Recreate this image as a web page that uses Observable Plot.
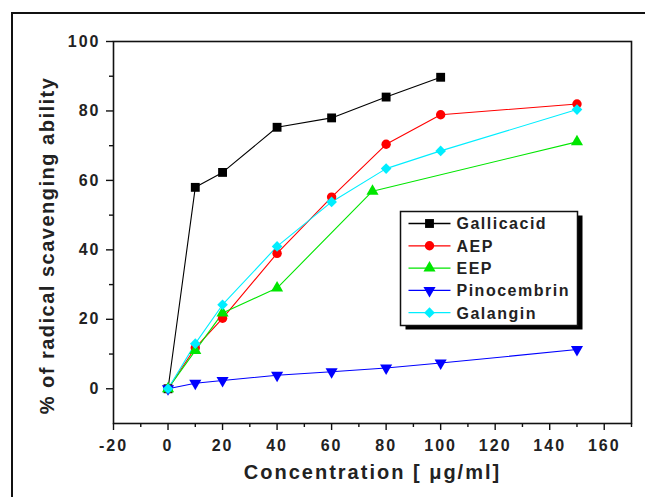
<!DOCTYPE html>
<html>
<head>
<meta charset="utf-8">
<script src="https://cdn.jsdelivr.net/npm/d3@7"></script>
<script src="https://cdn.jsdelivr.net/npm/@observablehq/plot@0.6"></script>
<style>
  html, body { margin: 0; padding: 0; background: #fff; overflow: hidden; width: 645px; height: 497px; }
  #wrap { position: relative; width: 645px; height: 497px; overflow: hidden; }
  #border { position: absolute; left: 11px; top: 12px; width: 700px; height: 600px; border: 2px solid #111; box-sizing: border-box; }
  #chart { position: absolute; left: 0; top: 0; }
  #chart svg text { letter-spacing: 2px; }
  #chart svg .ytitle text { letter-spacing: 1.5px; }
  #chart svg .leg text { letter-spacing: 1.5px; }
</style>
</head>
<body>
<div id="wrap"><div id="border"></div><div id="chart"></div></div>
<script>
// ---- data ----
const seriesNames = ["Gallicacid", "AEP", "EEP", "Pinocembrin", "Galangin"];
const concGallic = [0, 10, 20, 40, 60, 80, 100];
const gallic     = [0, 58, 62.3, 75.3, 78, 84, 89.7];
const concAEP    = [0, 10, 20, 40, 60, 80, 100, 150];
const aep        = [0, 11.8, 20.3, 39, 55.2, 70.4, 78.9, 82];
const concEEP    = [0, 10, 20, 40, 75, 150];
const eep        = [0, 11, 21.8, 29, 56.9, 71.1];
const concPino   = [0, 10, 20, 40, 60, 80, 100, 150];
const pino       = [0, 1.6, 2.4, 3.9, 4.9, 6, 7.4, 11.3];
const concGal    = [0, 10, 20, 40, 60, 80, 100, 150];
const galangin   = [0, 13, 24.2, 41, 53.8, 63.4, 68.5, 80.4];

const xMajorTicks = [-20, 0, 20, 40, 60, 80, 100, 120, 140, 160];
const xMinorTicks = [-10, 10, 30, 50, 70, 90, 110, 130, 150, 170];
const yMajorTicks = [0, 20, 40, 60, 80, 100];
const yMinorTicks = [10, 30, 50, 70, 90];
const xTitle = "Concentration [ \u03bcg/ml]";
const yTitle = "% of radical scavenging ability";

// ---- styling ----
const triangleDown = {
  draw(ctx, size) {
    const y = -Math.sqrt(size / (Math.sqrt(3) * 3));
    ctx.moveTo(0, -y * 2);
    ctx.lineTo(-Math.sqrt(3) * y, y);
    ctx.lineTo(Math.sqrt(3) * y, y);
    ctx.closePath();
  }
};
const styles = [
  {color: "#000000", symbol: "square",   r: 5.0},
  {color: "#ff0000", symbol: "circle",   r: 4.7},
  {color: "#00e600", symbol: "triangle", r: 4.5},
  {color: "#0000ff", symbol: triangleDown, r: 4.5},
  {color: "#00eeff", symbol: "diamond2", r: 4.8}
];
const concs = [concGallic, concAEP, concEEP, concPino, concGal];
const vals = [gallic, aep, eep, pino, galangin];

const series = seriesNames.map((name, i) => ({
  name, ...styles[i],
  rows: concs[i].map((c, j) => ({conc: c, value: vals[i][j], name}))
}));

const marks = [];
for (const s of series) {
  marks.push(Plot.line(s.rows, {x: "conc", y: "value", stroke: s.color, strokeWidth: 1.1}));
}
for (const s of series) {
  marks.push(Plot.dot(s.rows, {x: "conc", y: "value", symbol: s.symbol, r: s.r, fill: s.color, stroke: "none"}));
}

const font = "'Liberation Sans', Arial, sans-serif";

const chart = Plot.plot({
  width: 645,
  height: 497,
  marginLeft: 113,
  marginRight: 14,
  marginTop: 41,
  marginBottom: 74,
  style: {fontFamily: font, fontSize: "16px", fontWeight: "bold", color: "#222", background: "transparent", overflow: "visible"},
  x: {domain: [-20, 170]},
  y: {domain: [-10, 100]},
  marks: [
    Plot.axisX({ticks: xMajorTicks, tickSize: 7, tickPadding: 9, tickFormat: d => String(d), label: null, stroke: "#111", strokeWidth: 1.4, fill: "#222"}),
    Plot.axisX({ticks: xMinorTicks, tickSize: 4, text: null, label: null, stroke: "#111", strokeWidth: 1.4}),
    Plot.axisY({ticks: yMajorTicks, tickSize: 7, tickPadding: 6, tickFormat: d => String(d), label: null, stroke: "#111", strokeWidth: 1.4, fill: "#222"}),
    Plot.axisY({ticks: yMinorTicks, tickSize: 4, text: null, label: null, stroke: "#111", strokeWidth: 1.4}),
    Plot.frame({stroke: "#111", strokeWidth: 1.6}),
    ...marks,
    Plot.text([xTitle], {frameAnchor: "bottom", text: d => d, dy: 49, fontSize: 20, fontWeight: "bold", fill: "#222", lineAnchor: "middle", textAnchor: "middle"}),
    Plot.text([yTitle], {frameAnchor: "left", text: d => d, dx: -66, dy: 13, rotate: -90, fontSize: 20, fontWeight: "bold", fill: "#222", lineAnchor: "middle", textAnchor: "middle", className: "ytitle"})
  ]
});
document.getElementById("chart").appendChild(chart);

// ---- legend box (layout drawn into the Plot SVG) ----
const svg = d3.select(chart);
const lx = 400.5, ly = 211.5, lw = 177, lh = 114;
const leg = svg.append("g").attr("class", "leg").attr("text-anchor", "start");
leg.append("rect").attr("x", lx + 5).attr("y", ly + 4).attr("width", lw).attr("height", lh).attr("fill", "#000");
leg.append("rect").attr("x", lx).attr("y", ly).attr("width", lw).attr("height", lh).attr("fill", "#fff").attr("stroke", "#111").attr("stroke-width", 1.5);
const symMap = {square: d3.symbolSquare, circle: d3.symbolCircle, triangle: d3.symbolTriangle, diamond2: d3.symbolDiamond2};
series.forEach((s, i) => {
  const cy = ly + 12 + i * 22.3;
  leg.append("line").attr("x1", lx + 8).attr("x2", lx + 50).attr("y1", cy).attr("y2", cy).attr("stroke", s.color).attr("stroke-width", 1.3);
  const sym = typeof s.symbol === "string" ? symMap[s.symbol] : s.symbol;
  leg.append("path").attr("d", d3.symbol(sym, Math.PI * s.r * s.r)()).attr("transform", `translate(${lx + 29},${cy})`).attr("fill", s.color);
  leg.append("text").attr("x", lx + 56).attr("y", cy + 5.8).attr("text-anchor", "start").attr("font-size", 16).attr("font-weight", "bold").attr("font-family", font).attr("fill", "#222").text(s.name);
});
</script>
</body>
</html>
